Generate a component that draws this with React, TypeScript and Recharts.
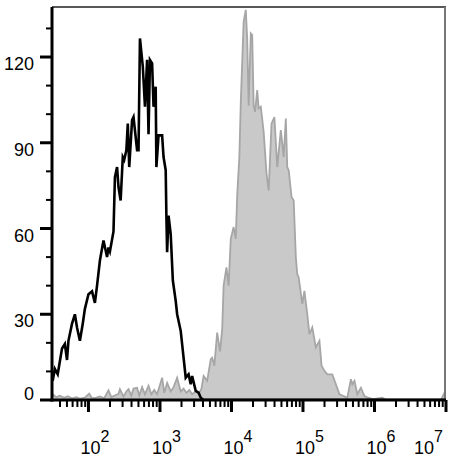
import React from "react";
import { ComposedChart, Area, Line, XAxis, YAxis } from "recharts";

// x values are log10 of the fluorescence intensity
const decades = [1, 2, 3, 4, 5, 6];
const countTicks = [0, 10, 20, 30, 40, 50, 60, 70, 80, 90, 100, 110, 120, 130];

// black line (control)
const controlLog = [
  1.5, 1.53, 1.57, 1.63, 1.67, 1.7, 1.72, 1.77, 1.81, 1.84, 1.88, 1.92, 1.95, 2.0, 2.05, 2.09, 2.12,
  2.16, 2.21, 2.26, 2.28, 2.3, 2.35, 2.37, 2.4, 2.42, 2.45, 2.48, 2.5, 2.53, 2.55, 2.57, 2.61, 2.63,
  2.68, 2.7, 2.72, 2.76, 2.79, 2.82, 2.84, 2.86, 2.89, 2.91, 2.94, 2.95, 2.98, 3.03, 3.05, 3.08,
  3.09, 3.1, 3.12, 3.15, 3.18, 3.22, 3.24, 3.29, 3.33, 3.36, 3.4, 3.43, 3.45, 3.5, 3.54, 3.57, 3.61,
  7.0,
];
const controlCount = [
  6.7, 10.9, 9, 18, 19.6, 14, 20.7, 26.7, 30, 25.4, 20.7, 26.7, 31.9, 37, 38, 34, 40,
  48.8, 55.8, 50, 53.4, 52, 59, 78, 81.5, 74.5, 69.8, 85, 84, 87.4, 96.7, 81.5, 97.9, 99,
  87.4, 87.4, 126.5, 116.6, 102.6, 119, 93, 119, 117.8, 102.6, 109.6, 81.5, 92.6, 92.6, 85, 80.4,
  64, 51.7, 64.5, 58, 41.8, 34.7, 30, 24.2, 14.8, 7.8, 9, 5.5, 8.4, 3.2, 2.6, 0.8, 0,
  0,
];

// grey filled histogram (stained)
const stainedLog = [
  1.5, 1.55, 1.6, 1.66, 1.71, 1.77, 1.83, 1.88, 1.95, 2.01, 2.05, 2.11, 2.16, 2.22, 2.28, 2.32, 2.36,
  2.42, 2.44, 2.49, 2.53, 2.56, 2.6, 2.63, 2.68, 2.71, 2.75, 2.79, 2.84, 2.88, 2.92, 2.96, 3.03,
  3.06, 3.1, 3.15, 3.19, 3.24, 3.29, 3.33, 3.37, 3.41, 3.45, 3.5, 3.54, 3.58, 3.61, 3.66, 3.71,
  3.73, 3.76, 3.8, 3.84, 3.87, 3.89, 3.93, 3.96, 3.99, 4.03, 4.06, 4.08, 4.11, 4.13, 4.17, 4.2,
  4.22, 4.24, 4.27, 4.29, 4.31, 4.33, 4.36, 4.38, 4.41, 4.45, 4.49, 4.52, 4.56, 4.6, 4.64, 4.69,
  4.73, 4.76, 4.78, 4.8, 4.84, 4.87, 4.9, 4.92, 4.94, 4.99, 5.02, 5.06, 5.09, 5.13, 5.18, 5.23,
  5.26, 5.3, 5.34, 5.41, 5.46, 5.51, 5.56, 5.62, 5.67, 5.69, 5.72, 5.76, 5.81, 5.86, 5.91, 5.98,
  6.11, 6.16, 6.93, 6.98, 7.0,
];
const stainedCount = [
  2, 1, 1.5, 0.8, 1.3, 0.6, 1, 0.5, 0.8, 2.2, 0.6, 0.8, 1.2, 0.6, 3.4, 1, 1.5,
  2.2, 3.8, 1.2, 3, 3.8, 1.5, 4, 4.3, 1.6, 4.5, 2, 5, 2, 3.5, 2, 7.8,
  2.5, 6, 3, 4.5, 7.8, 3, 4, 2.5, 3.5, 2, 3, 2, 4, 8.4, 6.7, 14.3,
  14.8, 12, 23.6, 17, 24.8, 40, 46.4, 40, 56.4, 60.5, 56.4, 71.6, 85, 104, 132.4, 136.5,
  126.5, 103, 128.3, 127.7, 103, 100.8, 108.4, 102, 102.6, 93.8, 79.2, 73.3, 96.7, 99, 81.5, 94.4,
  85, 98.5, 81.5, 80.4, 71, 69.8, 50, 44, 42.9, 33.6, 38.2, 30, 23, 25.4, 18.4, 20.7,
  12, 10.2, 9, 9, 5.5, 2, 1.5, 0.8, 7.3, 5.5, 6.7, 2, 4.3, 1.4, 0.8, 0.3,
  0.8, 0, 0, 2.6, 3.2,
];

const control = controlLog.map((e, i) => ({ e, count: controlCount[i] }));
const stained = stainedLog.map((e, i) => ({ e, count: stainedCount[i] }));

const xTicks: number[] = [];
decades.forEach((d) => {
  for (let k = 1; k <= 9; k++) {
    const v = d + Math.log10(k);
    if (v >= 1.49 && v <= 7) xTicks.push(v);
  }
});
xTicks.push(7);

const font = "'Liberation Sans', Arial, sans-serif";

// plot box, in page pixels
const box = { left: 52, top: 7, right: 446, bottom: 400 };

const XTick = (props: any) => {
  const { x, y, payload } = props;
  const v = payload.value;
  const major = Math.abs(v - Math.round(v)) < 1e-6;
  if (!major) return <line x1={x} x2={x} y1={y} y2={y + 7} stroke="#000" strokeWidth={2} />;
  const last = v >= 7;
  return (
    <g>
      <line x1={x} x2={x} y1={y} y2={y + 12} stroke="#000" strokeWidth={3} />
      <text x={last ? x - 32 : x - 8} y={y + 54} fontSize={18} fontFamily={font} fill="#000">
        10
        <tspan dy={-12} fontSize={16}>
          {Math.round(v)}
        </tspan>
      </text>
    </g>
  );
};

const YTick = (props: any) => {
  const { x, y, payload } = props;
  const v = payload.value;
  const major = v % 30 === 0;
  return (
    <g>
      <line x1={x - (major ? 12 : 6)} x2={x} y1={y} y2={y} stroke="#000" strokeWidth={major ? 3 : 2} />
      {major && (
        <text x={x - 18} y={v === 0 ? y : y + 13} textAnchor="end" fontSize={18} fontFamily={font} fill="#000">
          {v}
        </text>
      )}
    </g>
  );
};

export default function App() {
  return (
    <div style={{ position: "absolute", left: 0, top: 0, width: 460, height: 463, background: "#fff" }}>
      <ComposedChart width={460} height={463} margin={{ top: 7, right: 14, bottom: 13, left: 0 }}>
        <Area
          data={stained}
          dataKey="count"
          type="linear"
          stroke="#a6a6a6"
          strokeWidth={1.8}
          fill="#c9c9c9"
          fillOpacity={1}
          isAnimationActive={false}
          dot={false}
          activeDot={false}
        />
        <Line
          data={control}
          dataKey="count"
          type="linear"
          stroke="#000"
          strokeWidth={2.6}
          dot={false}
          activeDot={false}
          isAnimationActive={false}
        />
        <XAxis
          type="number"
          dataKey="e"
          domain={[1.49, 7]}
          ticks={xTicks}
          interval={0}
          allowDataOverflow
          height={50}
          tickSize={0}
          tickMargin={0}
          tickLine={false}
          axisLine={false}
          tick={<XTick />}
        />
        <YAxis
          type="number"
          domain={[0, 137.5]}
          ticks={countTicks}
          interval={0}
          allowDataOverflow
          width={52}
          tickSize={0}
          tickMargin={0}
          tickLine={false}
          axisLine={false}
          tick={<YTick />}
        />
      </ComposedChart>
      {/* frame: top / right border plus the two axis lines */}
      <svg
        width={460}
        height={463}
        style={{ position: "absolute", left: 0, top: 0, pointerEvents: "none", zIndex: 5 }}
      >
        <rect x={box.left} y={box.top - 0.75} width={box.right - box.left} height={1.5} fill="#222" />
        <rect x={box.right - 2} y={box.top} width={2} height={box.bottom - box.top} fill="#777" />
        <rect x={box.left - 1.5} y={box.top} width={3} height={box.bottom - box.top + 1.5} fill="#000" />
        <rect x={box.left - 1.5} y={box.bottom - 1.5} width={box.right - box.left + 1.5} height={3} fill="#000" />
      </svg>
    </div>
  );
}
